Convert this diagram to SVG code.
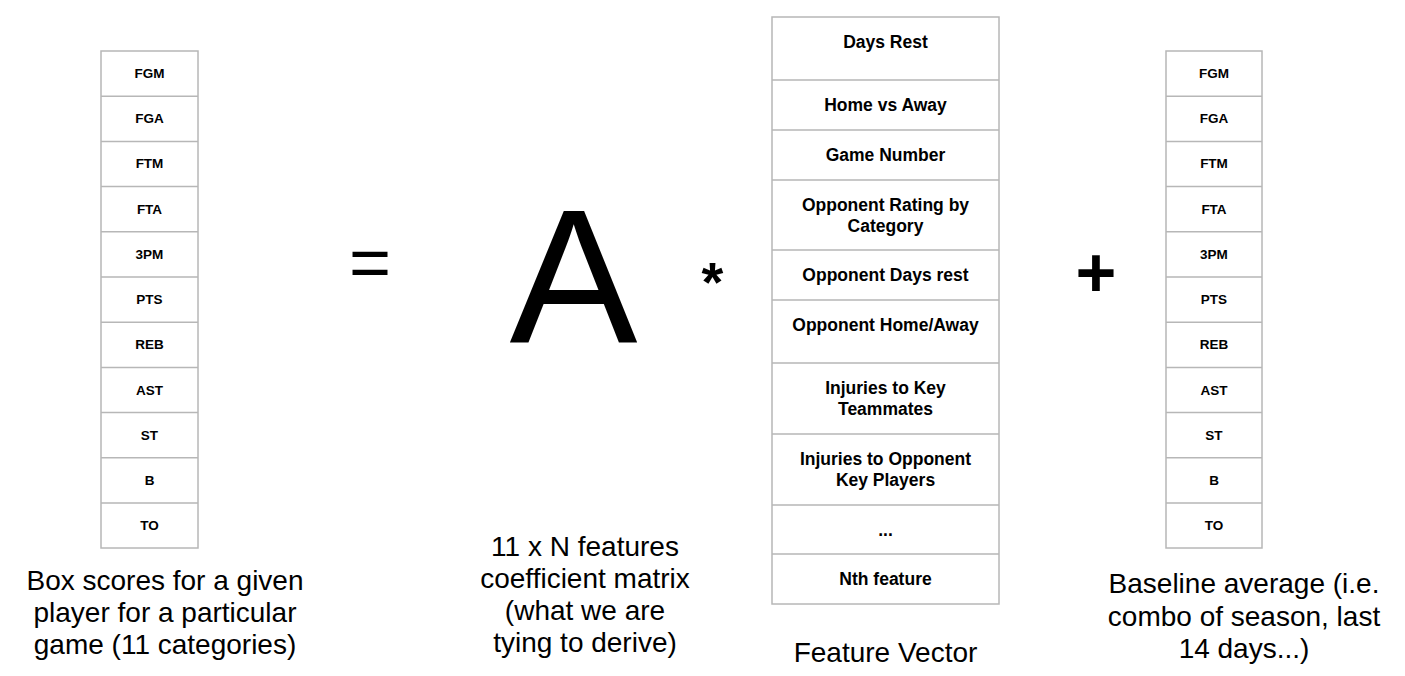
<svg xmlns="http://www.w3.org/2000/svg" width="1405" height="676" viewBox="0 0 1405 676">
<style>
.cell{fill:#fff;stroke:#b7b7b7;stroke-width:1.5}
.s{font-family:"Liberation Sans",Arial,sans-serif;font-weight:bold;font-size:13.5px;fill:#000;text-anchor:middle}
.f{font-family:"Liberation Sans",Arial,sans-serif;font-weight:bold;font-size:17.5px;fill:#000;text-anchor:middle}
.cap{font-family:"Liberation Sans",Arial,sans-serif;font-size:28px;fill:#000;text-anchor:middle}
.sym{font-family:"Liberation Sans",Arial,sans-serif;fill:#000;text-anchor:middle}
</style>
<rect width="1405" height="676" fill="#fff"/>
<g id="box-scores">
<rect class="cell" x="101" y="51" width="97" height="497"/>
<path d="M101 96.2H198M101 141.4H198M101 186.6H198M101 231.8H198M101 277H198M101 322.2H198M101 367.4H198M101 412.6H198M101 457.8H198M101 503H198" stroke="#b7b7b7" stroke-width="1.5"/>
<text class="s" x="149.5" y="78">FGM</text>
<text class="s" x="149.5" y="123">FGA</text>
<text class="s" x="149.5" y="168">FTM</text>
<text class="s" x="149.5" y="214">FTA</text>
<text class="s" x="149.5" y="259">3PM</text>
<text class="s" x="149.5" y="304">PTS</text>
<text class="s" x="149.5" y="349">REB</text>
<text class="s" x="149.5" y="395">AST</text>
<text class="s" x="149.5" y="440">ST</text>
<text class="s" x="149.5" y="485">B</text>
<text class="s" x="149.5" y="530">TO</text>
</g>
<g id="baseline">
<rect class="cell" x="1166" y="51" width="96" height="497"/>
<path d="M1166 96.2H1262M1166 141.4H1262M1166 186.6H1262M1166 231.8H1262M1166 277H1262M1166 322.2H1262M1166 367.4H1262M1166 412.6H1262M1166 457.8H1262M1166 503H1262" stroke="#b7b7b7" stroke-width="1.5"/>
<text class="s" x="1214" y="78">FGM</text>
<text class="s" x="1214" y="123">FGA</text>
<text class="s" x="1214" y="168">FTM</text>
<text class="s" x="1214" y="214">FTA</text>
<text class="s" x="1214" y="259">3PM</text>
<text class="s" x="1214" y="304">PTS</text>
<text class="s" x="1214" y="349">REB</text>
<text class="s" x="1214" y="395">AST</text>
<text class="s" x="1214" y="440">ST</text>
<text class="s" x="1214" y="485">B</text>
<text class="s" x="1214" y="530">TO</text>
</g>
<g id="feature-vector">
<rect class="cell" x="772" y="17" width="227" height="587"/>
<path d="M772 80H999M772 130H999M772 180H999M772 250H999M772 300H999M772 363H999M772 434H999M772 505H999M772 554H999" stroke="#b7b7b7" stroke-width="1.5"/>
<text class="f" x="885.5" y="48">Days Rest</text>
<text class="f" x="885.5" y="111">Home vs Away</text>
<text class="f" x="885.5" y="161">Game Number</text>
<text class="f" x="885.5" y="211">Opponent Rating by</text>
<text class="f" x="885.5" y="232">Category</text>
<text class="f" x="885.5" y="281">Opponent Days rest</text>
<text class="f" x="885.5" y="331">Opponent Home/Away</text>
<text class="f" x="885.5" y="394">Injuries to Key</text>
<text class="f" x="885.5" y="415">Teammates</text>
<text class="f" x="885.5" y="465">Injuries to Opponent</text>
<text class="f" x="885.5" y="486">Key Players</text>
<text class="f" x="885.5" y="536">...</text>
<text class="f" x="885.5" y="585">Nth feature</text>
</g>
<g id="operators">
<text class="sym" x="370" y="287" font-size="72">=</text>
<text class="sym" x="573.5" y="343" font-size="192">A</text>
<text class="sym" x="712.5" y="301" font-size="56" font-weight="bold">*</text>
<text class="sym" x="1096" y="297" font-size="70" font-weight="bold">+</text>
</g>
<g id="captions">
<text class="cap" x="165" y="590">Box scores for a given</text>
<text class="cap" x="165" y="622">player for a particular</text>
<text class="cap" x="165" y="654">game (11 categories)</text>
<text class="cap" x="585" y="556">11 x N features</text>
<text class="cap" x="585" y="588">coefficient matrix</text>
<text class="cap" x="585" y="620">(what we are</text>
<text class="cap" x="585" y="652">tying to derive)</text>
<text class="cap" x="885.5" y="662">Feature Vector</text>
<text class="cap" x="1244" y="593">Baseline average (i.e.</text>
<text class="cap" x="1244" y="626">combo of season, last</text>
<text class="cap" x="1244" y="658">14 days...)</text>
</g>
<g id="connectors"/>
</svg>
